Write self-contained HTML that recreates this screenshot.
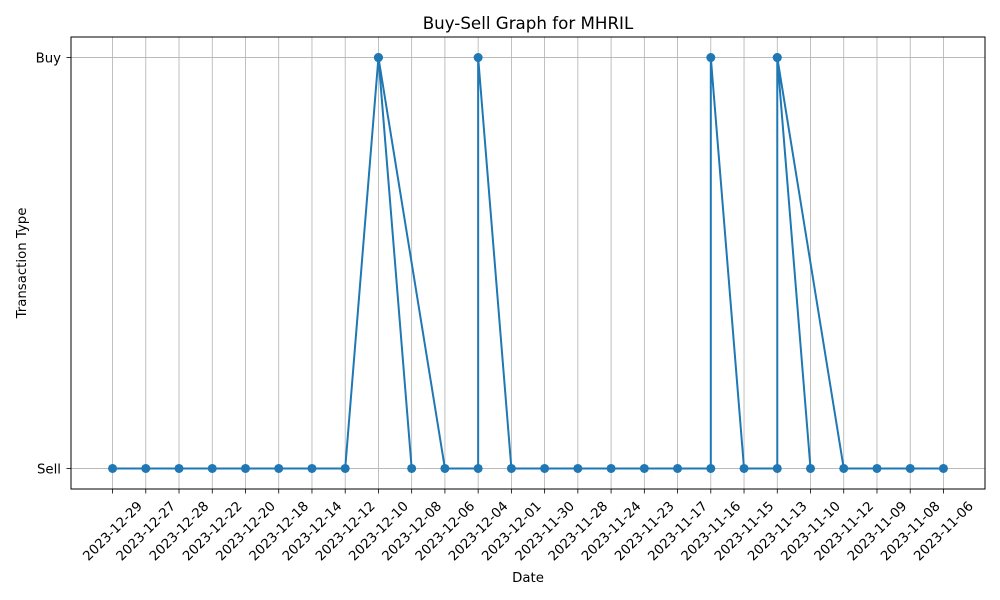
<!DOCTYPE html>
<html><head><meta charset="utf-8"><style>body{margin:0;background:#fff}svg{display:block;font-family:"DejaVu Sans","Liberation Sans",sans-serif}</style></head>
<body>
<svg id="chart" width="1000" height="600" xmlns="http://www.w3.org/2000/svg"></svg>
<script>
const dates=["2023-12-29","2023-12-27","2023-12-28","2023-12-22","2023-12-20","2023-12-18","2023-12-14","2023-12-12","2023-12-10","2023-12-08","2023-12-10","2023-12-06","2023-12-04","2023-12-04","2023-12-01","2023-11-30","2023-11-28","2023-11-24","2023-11-23","2023-11-17","2023-11-16","2023-11-16","2023-11-15","2023-11-13","2023-11-13","2023-11-10","2023-11-13","2023-11-12","2023-11-09","2023-11-08","2023-11-06"];
const types=["Sell","Sell","Sell","Sell","Sell","Sell","Sell","Sell","Buy","Sell","Buy","Sell","Sell","Buy","Sell","Sell","Sell","Sell","Sell","Sell","Sell","Buy","Sell","Sell","Buy","Sell","Buy","Sell","Sell","Sell","Sell"];
const yCats=["Sell","Buy"];
const NS="http://www.w3.org/2000/svg";
const svg=document.getElementById('chart');
function mk(t,a,p){const e=document.createElementNS(NS,t);for(const k in a)e.setAttribute(k,a[k]);(p||svg).appendChild(e);return e;}
const L=71,R=985,T=37,B=489;
const cats=[];dates.forEach(d=>{if(!cats.includes(d))cats.push(d);});
const n=cats.length;
const xmin=-0.05*(n-1),xmax=(n-1)*1.05;
const x=d=>L+(cats.indexOf(d)-xmin)/(xmax-xmin)*(R-L);
const yv=t=>yCats.indexOf(t);
const y=t=>B-(yv(t)+0.05)/1.1*(B-T);
cats.forEach(c=>{const g=mk('line',{x1:x(c),x2:x(c),y1:T,y2:B,stroke:'#b0b0b0','stroke-width':0.8});
});
yCats.forEach(c=>{const g=mk('line',{x1:L,x2:R,y1:y(c),y2:y(c),stroke:'#b0b0b0','stroke-width':0.8});
});
const pts=dates.map((d,i)=>x(d)+','+y(types[i])).join(' ');
const pl=mk('polyline',{points:pts,fill:'none',stroke:'#1f77b4','stroke-width':2,'stroke-linejoin':'round'});

dates.forEach((d,i)=>{const c=mk('circle',{cx:x(d),cy:y(types[i]),r:4.5,fill:'#1f77b4'});
});
const fr=mk('rect',{x:L,y:T,width:R-L,height:B-T,fill:'none',stroke:'#000','stroke-width':1});

cats.forEach(c=>{const xx=x(c);mk('line',{x1:xx,x2:xx,y1:B,y2:B+4.5,stroke:'#000','stroke-width':0.8});
const cy=531;
const t=mk('text',{x:xx,y:cy+4.5,'font-size':13.3,'text-anchor':'middle',transform:`rotate(-45 ${xx} ${cy})`});
t.textContent=c;});
yCats.forEach(c=>{const yy=y(c);mk('line',{x1:L-4.5,x2:L,y1:yy,y2:yy,stroke:'#000','stroke-width':0.8});
const t=mk('text',{x:L-10,y:yy+5,'font-size':13.3,'text-anchor':'end'});t.textContent=c;
});
const ti=mk('text',{x:(L+R)/2,y:29,'font-size':16.7,'text-anchor':'middle'});ti.textContent='Buy-Sell Graph for MHRIL';

const xl=mk('text',{x:(L+R)/2,y:582,'font-size':13.3,'text-anchor':'middle'});xl.textContent='Date';

const yl=mk('text',{x:26,y:(T+B)/2,'font-size':13.3,'text-anchor':'middle',transform:`rotate(-90 26 ${(T+B)/2})`});yl.textContent='Transaction Type';

</script>
</body></html>
